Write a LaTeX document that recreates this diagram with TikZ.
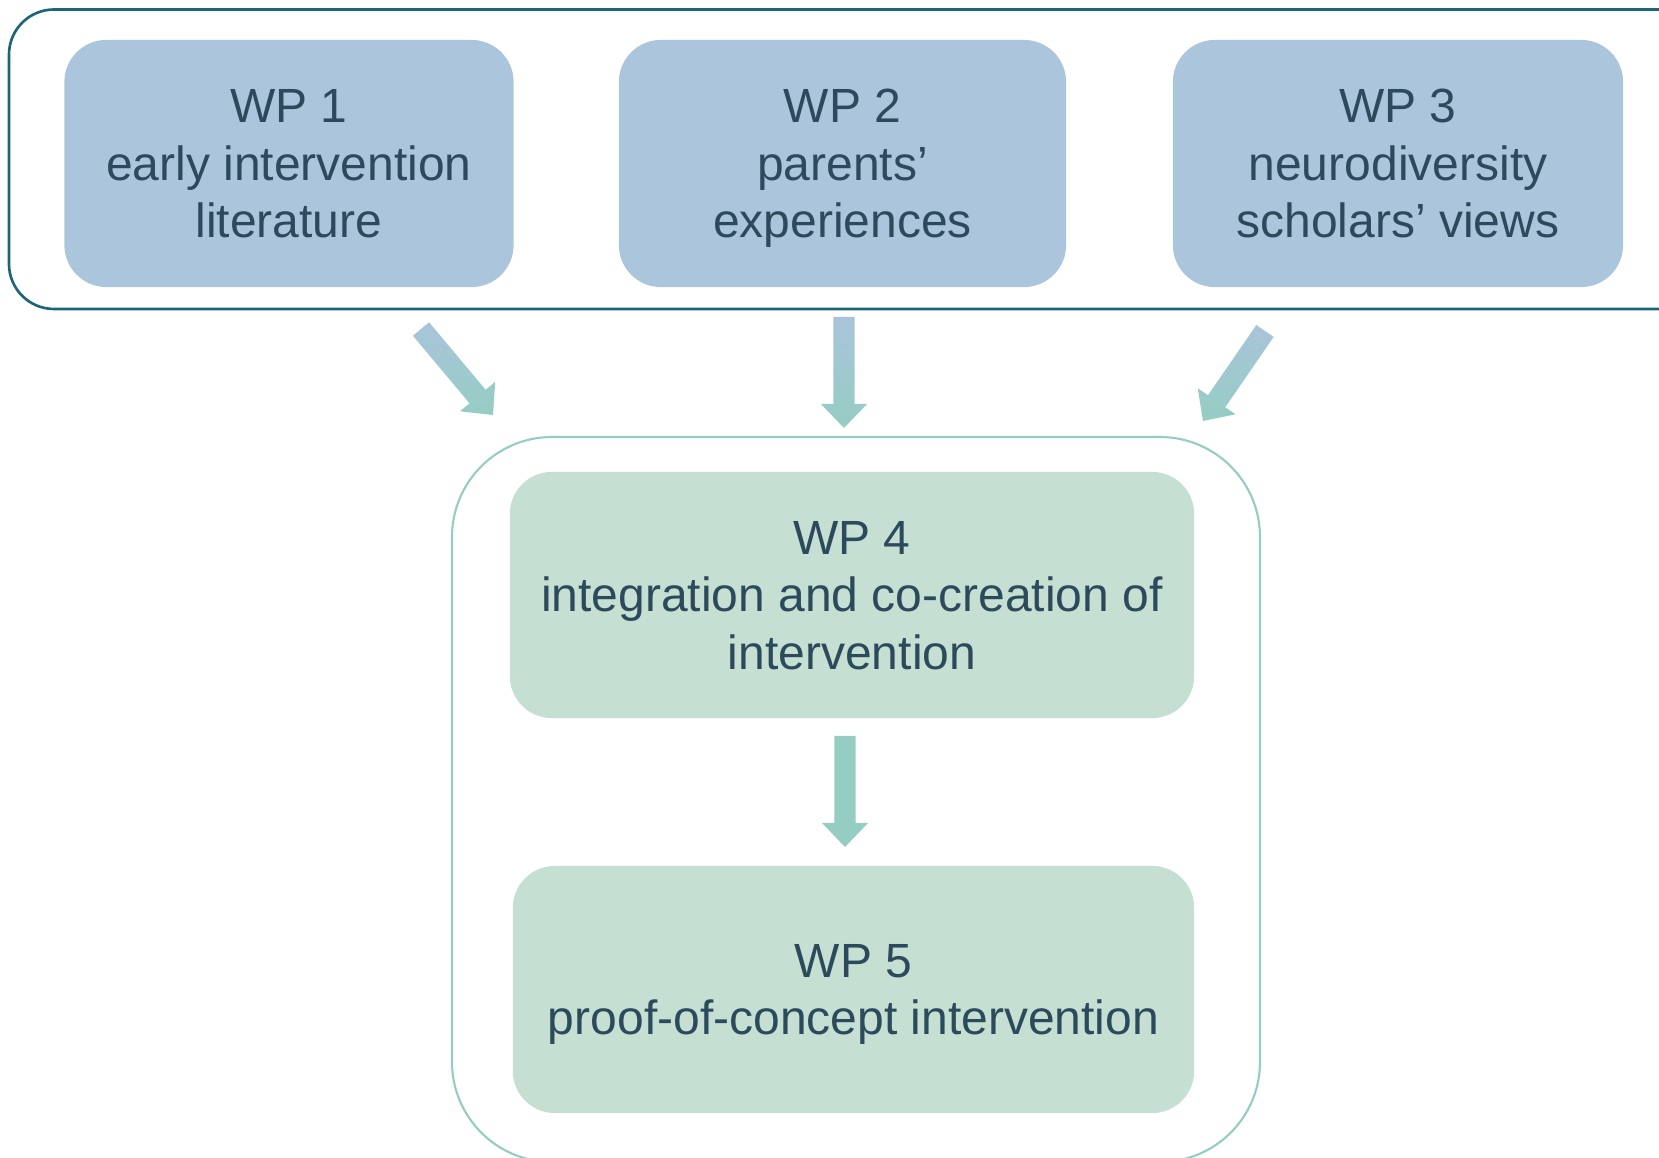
\documentclass[tikz,border=0pt]{standalone}
\usepackage{fontspec}
\setmainfont{Liberation Sans}
\usetikzlibrary{calc}

\definecolor{wpblue}{HTML}{ABC5DD}
\definecolor{wpgreen}{HTML}{C5DFD3}
\definecolor{wptext}{HTML}{2D4A5C}
\definecolor{wpframe}{HTML}{1B6479}
\definecolor{wpteal}{HTML}{95CDC3}
\definecolor{wparrowtop}{HTML}{A9C4DA}

\tikzset{
    wpbox/.style={rounded corners=0.42cm, minimum height=2.47cm, text=wptext,
        align=center, font=\fontsize{13.65}{16.35}\selectfont, inner sep=0pt,
        text depth=-1.1pt},
}

\begin{document}
\begin{tikzpicture}[x=0.01cm, y=-0.01cm]
            \clip (0,0) rectangle (1659,1158);
            \fill[white] (0,0) rectangle (1659,1158);

            \draw[wpframe, line width=0.75pt, rounded corners=0.45cm] (9,9.5) rectangle (1720,309);
            \draw[wpteal, line width=0.6pt, rounded corners=1cm] (452,437) rectangle (1260,1162);

            \node[wpbox, fill=wpblue, minimum width=4.49cm] (wp1) at (289,163.5) {WP 1\\early intervention\\literature};
            \node[wpbox, fill=wpblue, minimum width=4.47cm] (wp2) at (842.5,163.5) {WP 2\\parents’\\experiences};
            \node[wpbox, fill=wpblue, minimum width=4.50cm] (wp3) at (1398,163.5) {WP 3\\neurodiversity\\scholars’ views};
            \node[wpbox, fill=wpgreen, minimum width=6.84cm, minimum height=2.46cm] (wp4) at (852,595) {WP 4\\integration and co-creation of\\intervention};
            \node[wpbox, fill=wpgreen, minimum width=6.81cm] (wp5) at (853.5,989.5) {WP 5\\proof-of-concept intervention};

            \coordinate (a1s) at (421,329);  \coordinate (a1e) at (493,415);
            \coordinate (a2s) at (844,317);  \coordinate (a2e) at (844,428);
            \coordinate (a3s) at (1265,331); \coordinate (a3e) at (1203,421);
            \coordinate (a4s) at (845,736);  \coordinate (a4e) at (845,847);

            \foreach \s/\e/\c in {a1s/a1e/wparrowtop, a2s/a2e/wparrowtop, a3s/a3e/wparrowtop, a4s/a4e/wpteal}{
                \coordinate (h) at ($(\e)!0.24cm!(\s)$);
                \shade[top color=\c, bottom color=wpteal]
                    ($(\s)!0.105cm!90:(\e)$) -- ($(h)!0.105cm!90:(\e)$) -- ($(h)!0.23cm!90:(\e)$)
                    -- (\e) -- ($(h)!0.23cm!-90:(\e)$) -- ($(h)!0.105cm!-90:(\e)$)
                    -- ($(\s)!0.105cm!-90:(\e)$) -- cycle;
            }
        \end{tikzpicture}
\end{document}
